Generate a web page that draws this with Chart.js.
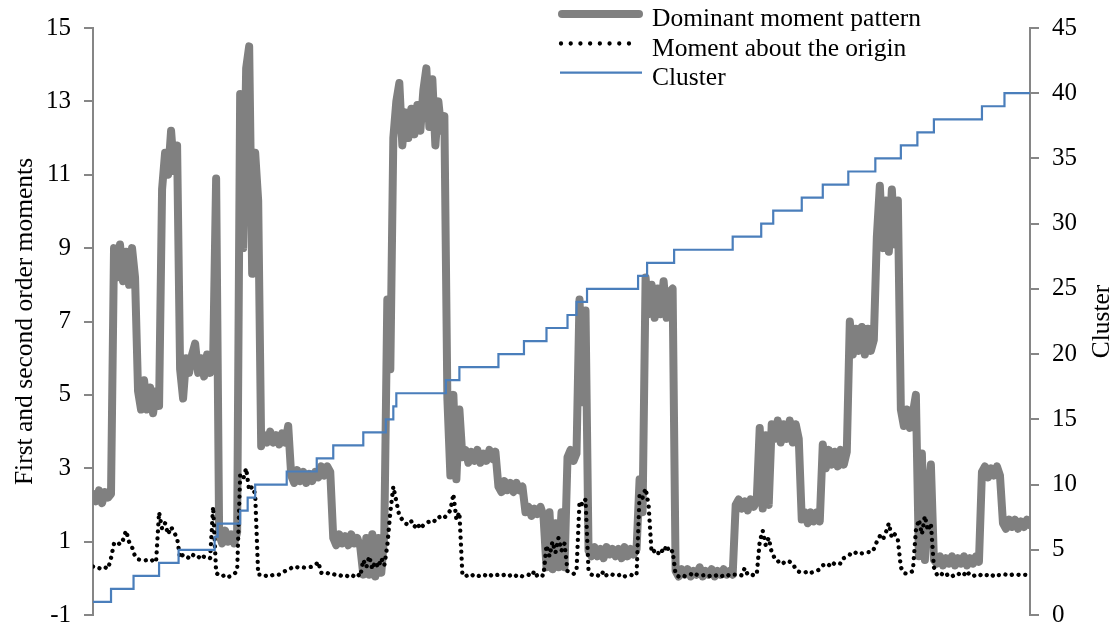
<!DOCTYPE html>
<html>
<head>
<meta charset="utf-8">
<script src="https://cdn.jsdelivr.net/npm/chart.js@4/dist/chart.umd.min.js"></script>
<style>
  html, body { margin: 0; padding: 0; background: #fff; }
  #wrap { width: 1118px; height: 643px; }
</style>
</head>
<body>
<div id="wrap"><canvas id="c" width="1118" height="643"></canvas></div>
<script>
// Dominant moment pattern, one value per sample (sample 0 .. 312)
const dominant = [
  2.3, 2.1, 2.4, 2.05, 2.35, 2.2, 2.3, 9.0, 8.2, 9.1,
  8.1, 8.9, 8.0, 9.0, 8.2, 5.1, 4.6, 5.4, 4.6, 5.2,
  4.5, 5.1, 4.7, 10.6, 11.6, 11.0, 12.2, 11.1, 11.8, 5.7,
  4.9, 6.0, 5.6, 6.1, 6.4, 5.6, 6.0, 5.5, 6.1, 5.6,
  5.9, 10.9, 1.2, 0.95, 1.3, 1.0, 1.2, 0.95, 1.25, 13.2,
  9.0, 13.9, 14.5, 8.3, 11.6, 10.3, 3.6, 3.9, 3.7, 4.0,
  3.7, 3.9, 3.65, 3.95, 3.7, 4.15, 2.8, 2.6, 2.95, 2.65,
  2.9, 2.6, 2.85, 2.65, 2.9, 2.75, 3.05, 2.8, 3.05, 2.9,
  1.1, 0.9, 1.2, 0.95, 1.15, 0.9, 1.2, 0.95, 1.1, 0.85,
  0.1, 1.1, 0.1, 1.2, 0.05, 1.1, 0.15, 1.2, 7.6, 5.7,
  12.0, 13.0, 13.5, 11.8, 12.7, 12.0, 12.8, 12.1, 12.9, 12.2,
  13.3, 13.9, 12.3, 13.6, 11.8, 13.0, 12.2, 12.6, 4.9, 2.8,
  5.0, 2.7, 4.6, 3.3, 3.5, 3.15, 3.45, 3.2, 3.5, 3.15,
  3.4, 3.2, 3.5, 3.25, 3.45, 2.5, 2.35, 2.65, 2.4, 2.6,
  2.35, 2.6, 2.4, 2.5, 1.8, 1.95, 1.7, 1.9, 1.75, 1.95,
  1.7, 0.3, 1.8, 0.25, 1.5, 0.3, 1.8, 0.3, 3.3, 3.5,
  3.2, 3.4, 7.6, 4.8, 7.3, 0.75, 0.6, 0.85, 0.6, 0.8,
  0.55, 0.85, 0.65, 0.8, 0.6, 0.8, 0.55, 0.85, 0.6, 0.8,
  0.65, 0.8, 2.7, 1.8, 8.2, 7.2, 8.0, 7.1, 7.9, 7.2,
  8.1, 7.1, 7.8, 7.9, 0.2, 0.05, 0.25, 0.1, 0.25, 0.05,
  0.2, 0.1, 0.3, 0.05, 0.2, 0.1, 0.25, 0.05, 0.2, 0.1,
  0.25, 0.1, 0.2, 0.1, 2.0, 2.15, 1.9, 2.1, 1.85, 2.15,
  1.95, 2.1, 4.1, 1.9, 3.9, 2.0, 4.2, 3.8, 4.3, 3.7,
  4.2, 3.8, 4.3, 3.7, 4.2, 3.8, 1.6, 1.8, 1.5, 1.8,
  1.55, 1.8, 1.55, 3.65, 3.0, 3.5, 3.1, 3.45, 3.05, 3.5,
  3.1, 3.45, 7.0, 6.1, 6.8, 6.2, 6.85, 6.1, 6.8, 6.2,
  6.5, 9.3, 10.7, 9.0, 10.3, 8.9, 10.6, 9.1, 10.3, 4.6,
  4.15, 4.6, 4.1, 4.5, 5.0, 0.6, 3.4, 0.5, 2.2, 3.1,
  0.5, 0.4, 0.6, 0.35, 0.55, 0.4, 0.6, 0.35, 0.55, 0.4,
  0.6, 0.35, 0.55, 0.4, 0.6, 0.45, 2.9, 3.05, 2.75, 3.0,
  2.8, 3.05, 2.8, 1.5, 1.35, 1.6, 1.4, 1.6, 1.35, 1.55,
  1.4, 1.6, 1.45
];

// Moment about the origin, same samples
const aboutOrigin = [
  0.32, 0.27, 0.28, 0.25, 0.3, 0.26, 0.55, 0.95, 1.0, 0.92,
  1.05, 1.3, 1.0, 0.85, 0.6, 0.52, 0.5, 0.48, 0.5, 0.46,
  0.5, 0.45, 1.8, 1.35, 1.5, 1.2, 1.4, 1.25, 1.1, 0.55,
  0.65, 0.6, 0.55, 0.65, 0.6, 0.55, 0.65, 0.58, 0.6, 0.55,
  1.95, 0.15, 0.08, 0.05, 0.1, 0.04, 0.06, 0.12, 0.2, 2.8,
  2.7, 3.0, 2.4, 2.5, 2.3, 0.1, 0.1, 0.05, 0.08, 0.05,
  0.1, 0.12, 0.1, 0.15, 0.2, 0.22, 0.28, 0.25, 0.3, 0.27,
  0.3, 0.28, 0.3, 0.32, 0.35, 0.45, 0.15, 0.12, 0.15, 0.1,
  0.12, 0.08, 0.1, 0.05, 0.08, 0.05, 0.1, 0.05, 0.12, 0.05,
  0.5, 0.3, 0.6, 0.25, 0.45, 0.3, 0.55, 0.35, 0.9, 1.8,
  2.5, 2.1, 1.7, 1.6, 1.5, 1.45, 1.55, 1.4, 1.5, 1.35,
  1.45, 1.5, 1.55, 1.6, 1.55, 1.65, 1.7, 1.65, 1.75, 1.85,
  2.3, 1.6, 1.8, 0.1, 0.05, 0.1, 0.06, 0.12, 0.08, 0.05,
  0.1, 0.07, 0.12, 0.05, 0.08, 0.1, 0.06, 0.1, 0.05, 0.08,
  0.12, 0.06, 0.1, 0.05, 0.08, 0.1, 0.06, 0.2, 0.05, 0.1,
  0.07, 0.9, 0.6, 1.0, 0.7, 1.1, 0.75, 0.95, 0.2, 0.15,
  0.12, 0.2, 2.1, 2.0, 2.15, 0.2, 0.1, 0.05, 0.08, 0.05,
  0.2, 0.08, 0.05, 0.1, 0.06, 0.08, 0.12, 0.05, 0.08, 0.1,
  0.06, 0.1, 2.3, 2.2, 2.45, 2.0, 0.7, 0.75, 0.65, 0.8,
  0.7, 0.9, 0.7, 0.75, 0.1, 0.05, 0.1, 0.06, 0.08, 0.12,
  0.05, 0.1, 0.06, 0.08, 0.1, 0.05, 0.09, 0.06, 0.1, 0.05,
  0.08, 0.12, 0.06, 0.1, 0.1, 0.12, 0.08, 0.28, 0.1, 0.12,
  0.08, 0.1, 1.0, 1.3, 0.9, 1.1, 0.7, 0.55, 0.45, 0.5,
  0.42, 0.48, 0.45, 0.4, 0.25, 0.18, 0.15, 0.15, 0.2, 0.15,
  0.18, 0.2, 0.25, 0.35, 0.4, 0.35, 0.45, 0.38, 0.42, 0.4,
  0.55, 0.6, 0.65, 0.62, 0.7, 0.65, 0.68, 0.7, 0.72, 0.7,
  0.8, 1.0, 1.15, 1.05, 1.25, 1.5, 1.1, 1.2, 1.05, 0.3,
  0.15, 0.12, 0.15, 0.2, 1.3, 1.6, 1.2, 1.7, 1.3, 1.5,
  0.3, 0.1, 0.05, 0.15, 0.08, 0.12, 0.05, 0.1, 0.14, 0.06,
  0.1, 0.2, 0.08, 0.05, 0.1, 0.12, 0.06, 0.1, 0.08, 0.12,
  0.05, 0.1, 0.08, 0.12, 0.1, 0.06, 0.1, 0.08, 0.1, 0.07,
  0.1, 0.09, 0.1
];

// Cluster number and the sample where each cluster begins
const clusterStart = [0, 6, 13.5, 22, 28.5, 40.5, 41.5, 49, 51.5, 54,
  64.5, 74.5, 80, 90, 97.5, 100, 101, 117.5, 122, 135,
  143.5, 151, 158, 161, 164.5, 181.5, 184.5, 193.5, 213, 222.5,
  226.5, 236, 243, 251.5, 260.5, 269, 274.5, 280, 296, 303.5, 312];
const clusterId = [1, 2, 3, 4, 5, 6, 7, 8, 9, 10,
  11, 12, 13, 14, 15, 16, 17, 18, 19, 20,
  21, 22, 23, 24, 25, 26, 27, 28, 29, 30,
  31, 32, 33, 34, 35, 36, 37, 38, 39, 40, 40];

const momentTicks = [-1, 1, 3, 5, 7, 9, 11, 13, 15];
const clusterTicks = [0, 5, 10, 15, 20, 25, 30, 35, 40, 45];

const seriesNames = ['Dominant moment pattern', 'Moment about the origin', 'Cluster'];
const axisTitles = ['First and second order moments', 'Cluster'];

const SERIF = '"Liberation Serif", "Times New Roman", serif';
const AXIS_GREY = '#868686';

const toPoints = arr => arr.map((v, i) => ({ x: i, y: v }));

// Legend block in the top middle, and both rotated axis titles
const decorations = {
  id: 'decorations',
  afterDraw(chart) {
    const ctx = chart.ctx;
    const area = chart.chartArea;
    ctx.save();
    ctx.fillStyle = '#000';
    ctx.font = '25.5px ' + SERIF;

    const textX = 652;
    const rows = [14, 43.5, 72.7];
    const spans = [[562, 639], [561, 630], [560, 642]];
    const dashes = [[], [0.01, 9.7], []];
    chart.data.datasets.forEach((ds, i) => {
      const y = rows[i];
      ctx.save();
      ctx.strokeStyle = ds.borderColor;
      ctx.lineWidth = ds.borderWidth;
      ctx.lineCap = ds.borderCapStyle || 'butt';
      ctx.setLineDash(dashes[i]);
      ctx.beginPath();
      ctx.moveTo(spans[i][0], y);
      ctx.lineTo(spans[i][1], y);
      ctx.stroke();
      ctx.restore();
      ctx.textAlign = 'left';
      ctx.textBaseline = 'alphabetic';
      ctx.fillText(seriesNames[i], textX, y + 12);
    });

    const midY = (area.top + area.bottom) / 2;
    ctx.textAlign = 'center';
    ctx.textBaseline = 'middle';
    ctx.save();
    ctx.translate(25, midY);
    ctx.rotate(-Math.PI / 2);
    ctx.fillText(axisTitles[0], 0, 0);
    ctx.restore();
    ctx.save();
    ctx.translate(1102, midY);
    ctx.rotate(-Math.PI / 2);
    ctx.fillText(axisTitles[1], 0, 0);
    ctx.restore();
    ctx.restore();
  }
};

new Chart(document.getElementById('c'), {
  type: 'line',
  data: {
    datasets: [
      {
        label: seriesNames[0],
        data: toPoints(dominant),
        yAxisID: 'y',
        borderColor: '#808080',
        borderWidth: 8,
        borderCapStyle: 'round',
        borderJoinStyle: 'round',
        pointRadius: 0,
        tension: 0,
        order: 3
      },
      {
        label: seriesNames[1],
        data: toPoints(aboutOrigin),
        yAxisID: 'y',
        borderColor: '#000000',
        borderWidth: 4.3,
        borderDash: [0.01, 7],
        borderCapStyle: 'round',
        borderJoinStyle: 'round',
        pointRadius: 0,
        tension: 0,
        order: 2
      },
      {
        label: seriesNames[2],
        data: clusterStart.map((s, i) => ({ x: s, y: clusterId[i] })),
        yAxisID: 'y2',
        borderColor: '#4a7ebb',
        borderWidth: 2.2,
        stepped: true,
        pointRadius: 0,
        order: 1
      }
    ]
  },
  options: {
    responsive: false,
    animation: false,
    events: [],
    layout: { padding: { top: 20, bottom: 17, left: 0, right: 0 } },
    plugins: { legend: { display: false }, tooltip: { enabled: false } },
    scales: {
      x: { type: 'linear', display: false, min: 0, max: 312 },
      y: {
        position: 'left',
        min: -1, max: 15,
        afterFit: s => { s.width = 93; },
        afterBuildTicks: s => { s.ticks = momentTicks.map(v => ({ value: v })); },
        ticks: { color: '#000', padding: 13, font: { family: SERIF, size: 25 } },
        grid: { drawOnChartArea: false, drawTicks: true, tickLength: 9, color: AXIS_GREY, lineWidth: 2 },
        border: { display: true, color: AXIS_GREY, width: 2 }
      },
      y2: {
        position: 'right',
        min: 0, max: 45,
        afterFit: s => { s.width = 88; },
        afterBuildTicks: s => { s.ticks = clusterTicks.map(v => ({ value: v })); },
        ticks: { color: '#000', padding: 13, font: { family: SERIF, size: 25 } },
        grid: { drawOnChartArea: false, drawTicks: true, tickLength: 9, color: AXIS_GREY, lineWidth: 2 },
        border: { display: true, color: AXIS_GREY, width: 2 }
      }
    }
  },
  plugins: [decorations]
});
</script>
</body>
</html>
